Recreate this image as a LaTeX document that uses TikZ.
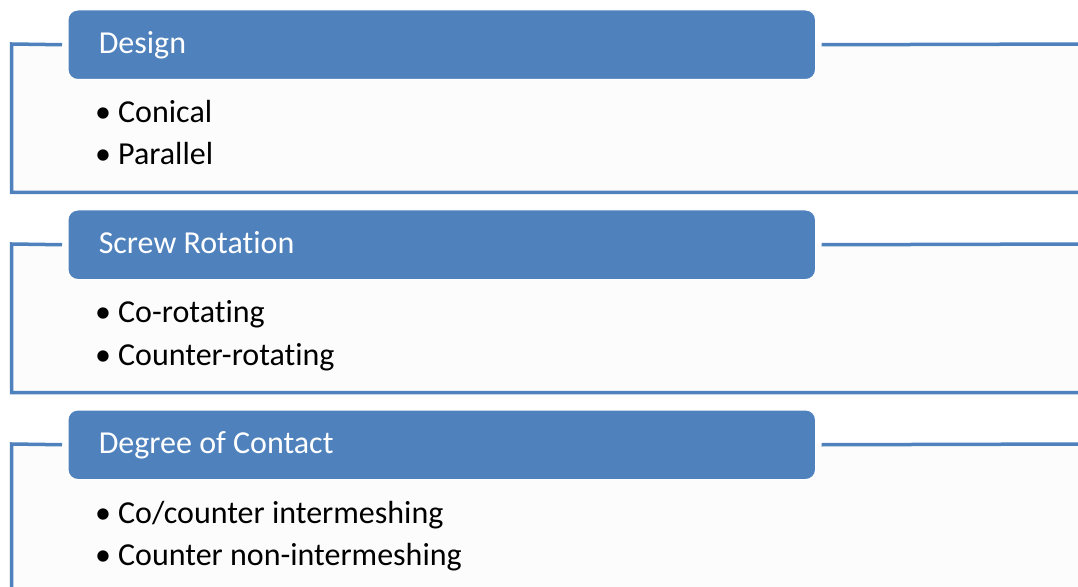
\documentclass[tikz,border=0pt]{standalone}
\usepackage{fontspec}
\setmainfont{Carlito}[RawFeature=-liga]
\definecolor{accent}{HTML}{4F81BD}
\definecolor{panel}{HTML}{FCFCFC}
\tikzset{
  hdr/.style={rounded corners=10bp, fill=accent, draw=white, line width=1.5bp,
    minimum height=70bp, anchor=north west, text=white, align=flush left,
    text width=686bp, inner xsep=31bp, inner ysep=0pt,
    text height=24bp, text depth=6bp,
    font=\fontsize{32bp}{38bp}\selectfont},
  frameline/.style={draw=accent, line width=3.5bp},
  item/.style={anchor=base west, inner sep=0pt, font=\fontsize{32bp}{38bp}\selectfont}
}
\begin{document}
\begin{tikzpicture}[x=1bp,y=-1bp]
\useasboundingbox (0,0) rectangle (1078,587);
\clip (0,0) rectangle (1078,587);
\fill[white] (0,0) rectangle (1078,587);
% group panels
\foreach \o in {0,200,400}{
  \fill[panel] (11.5,44+\o) rectangle (1090,192.5+\o);
}
% headers
\node[hdr] (h1) at (67,9) {Design};
\node[hdr] (h2) at (67,209) {Screw Rotation};
\node[hdr] (h3) at (67,409) {Degree of Contact};
% frames
\coordinate (c1) at (11.5,44);   \coordinate (d1) at (11.5,192.5);
\coordinate (c2) at (11.5,244);  \coordinate (d2) at (11.5,392.5);
\coordinate (c3) at (11.5,444);  \coordinate (d3) at (11.5,592.5);
\coordinate (r1) at (1090,44);   \coordinate (s1) at (1090,192.5);
\coordinate (r2) at (1090,244);  \coordinate (s2) at (1090,392.5);
\coordinate (r3) at (1090,444);  \coordinate (s3) at (1090,592.5);
\foreach \i in {1,2,3}{
  \draw[frameline] ([xshift=-5bp]h\i.west) -- (c\i) -- (d\i) -- (s\i);
  \draw[frameline] ([xshift=5bp]h\i.east) -- (r\i);
}
% bullet items
\node[item] (b11) at (95,123) {\makebox[23bp][l]{•}Conical};
\node[item] (b12) at (95,165) {\makebox[23bp][l]{•}Parallel};
\node[item] (b21) at (95,323) {\makebox[23bp][l]{•}Co-rotating};
\node[item] (b22) at (95,365) {\makebox[23bp][l]{•}Counter-rotating};
\node[item] (b31) at (95,523) {\makebox[23bp][l]{•}Co/counter intermeshing};
\node[item] (b32) at (95,565) {\makebox[23bp][l]{•}Counter non-intermeshing};
\end{tikzpicture}
\end{document}
